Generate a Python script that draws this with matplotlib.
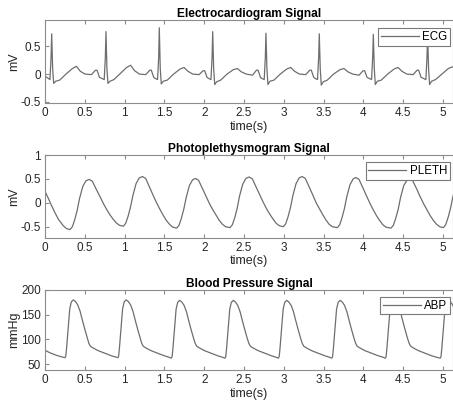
import matplotlib
matplotlib.use("Agg")
import matplotlib.pyplot as plt

# ---------------- data ----------------
ecg_t = [0.000, 0.034, 0.062, 0.076, 0.084, 0.096, 0.109, 0.134, 0.184, 0.264, 0.344, 0.394, 0.444, 0.504, 0.584, 0.634, 0.654, 0.684,
         0.716, 0.744, 0.758, 0.766, 0.778, 0.791, 0.816, 0.866, 0.946, 1.026, 1.076, 1.126, 1.186, 1.266, 1.316, 1.336, 1.366,
         1.386, 1.414, 1.428, 1.436, 1.448, 1.461, 1.486, 1.536, 1.616, 1.696, 1.746, 1.796, 1.856, 1.936, 1.986, 2.006, 2.036,
         2.057, 2.085, 2.099, 2.107, 2.119, 2.132, 2.157, 2.207, 2.287, 2.367, 2.417, 2.467, 2.527, 2.607, 2.657, 2.677, 2.707,
         2.726, 2.754, 2.768, 2.776, 2.788, 2.801, 2.826, 2.876, 2.956, 3.036, 3.086, 3.136, 3.196, 3.276, 3.326, 3.346, 3.376,
         3.396, 3.424, 3.438, 3.446, 3.458, 3.471, 3.496, 3.546, 3.626, 3.706, 3.756, 3.806, 3.866, 3.946, 3.996, 4.016, 4.046,
         4.075, 4.103, 4.117, 4.125, 4.137, 4.150, 4.175, 4.225, 4.305, 4.385, 4.435, 4.485, 4.545, 4.625, 4.675, 4.695, 4.725,
         4.757, 4.785, 4.799, 4.807, 4.819, 4.832, 4.857, 4.907, 4.987, 5.067, 5.117, 5.140]
ecg_v = [-0.04, -0.07, -0.10, 0.30, 0.73, 0.10, -0.17, -0.13, -0.11, 0.00, 0.10, 0.14, 0.05, 0.00, -0.01, 0.07, 0.07, -0.06,
         -0.08, -0.10, 0.30, 0.77, 0.10, -0.17, -0.13, -0.10, 0.01, 0.12, 0.16, 0.06, 0.00, -0.01, 0.07, 0.07, -0.06,
         -0.08, -0.10, 0.30, 0.84, 0.10, -0.18, -0.13, -0.11, 0.00, 0.09, 0.12, 0.05, 0.00, -0.01, 0.06, 0.06, -0.06,
         -0.08, -0.10, 0.30, 0.77, 0.10, -0.19, -0.14, -0.11, 0.00, 0.08, 0.10, 0.04, 0.00, -0.02, 0.07, 0.07, -0.06,
         -0.08, -0.10, 0.30, 0.74, 0.10, -0.19, -0.13, -0.11, 0.00, 0.09, 0.12, 0.05, 0.00, -0.01, 0.07, 0.07, -0.06,
         -0.08, -0.10, 0.30, 0.73, 0.10, -0.20, -0.14, -0.11, 0.00, 0.08, 0.10, 0.04, 0.00, -0.02, 0.06, 0.06, -0.06,
         -0.08, -0.10, 0.30, 0.72, 0.10, -0.19, -0.13, -0.11, 0.00, 0.09, 0.12, 0.05, 0.00, -0.01, 0.07, 0.07, -0.06,
         -0.08, -0.10, 0.30, 0.72, 0.10, -0.19, -0.13, -0.10, 0.00, 0.10, 0.13, 0.12]

pleth_t = [0.000, 0.040, 0.080, 0.126, 0.170, 0.230, 0.270,
           0.314, 0.344, 0.374, 0.404, 0.434, 0.474, 0.514, 0.555, 0.595, 0.645, 0.685, 0.735, 0.775, 0.815, 0.855, 0.895, 0.935,
           0.984, 1.014, 1.044, 1.074, 1.104, 1.144, 1.184, 1.225, 1.265, 1.315, 1.355, 1.405, 1.445, 1.485, 1.525, 1.565, 1.605,
           1.654, 1.684, 1.714, 1.744, 1.774, 1.814, 1.854, 1.890, 1.930, 1.980, 2.020, 2.070, 2.110, 2.150, 2.190, 2.230, 2.270,
           2.324, 2.354, 2.384, 2.414, 2.444, 2.484, 2.524, 2.565, 2.605, 2.655, 2.695, 2.745, 2.785, 2.825, 2.865, 2.905, 2.945,
           2.994, 3.024, 3.054, 3.084, 3.114, 3.154, 3.194, 3.230, 3.270, 3.320, 3.360, 3.410, 3.450, 3.490, 3.530, 3.570, 3.610,
           3.672, 3.702, 3.732, 3.762, 3.792, 3.832, 3.872, 3.905, 3.945, 3.995, 4.035, 4.085, 4.125, 4.165, 4.205, 4.245, 4.285,
           4.347, 4.377, 4.407, 4.437, 4.467, 4.507, 4.547, 4.580, 4.620, 4.670, 4.710, 4.760, 4.800, 4.840, 4.880, 4.920, 4.960,
           5.004, 5.034, 5.064, 5.094, 5.124, 5.164]
pleth_v = [0.24, 0.10, -0.05, -0.21, -0.35, -0.48, -0.54,
           -0.56, -0.50, -0.35, -0.16, 0.09, 0.34, 0.46, 0.49, 0.45, 0.28, 0.15, -0.02, -0.14, -0.25, -0.34, -0.42, -0.47,
           -0.49, -0.43, -0.28, -0.09, 0.15, 0.40, 0.52, 0.55, 0.51, 0.32, 0.17, -0.01, -0.14, -0.26, -0.37, -0.45, -0.51,
           -0.53, -0.47, -0.32, -0.13, 0.11, 0.36, 0.48, 0.51, 0.47, 0.29, 0.15, -0.03, -0.15, -0.26, -0.37, -0.45, -0.50,
           -0.52, -0.46, -0.31, -0.12, 0.14, 0.39, 0.51, 0.54, 0.50, 0.32, 0.18, 0.00, -0.13, -0.24, -0.34, -0.43, -0.48,
           -0.50, -0.44, -0.29, -0.10, 0.15, 0.40, 0.52, 0.55, 0.51, 0.33, 0.18, -0.01, -0.13, -0.25, -0.36, -0.45, -0.50,
           -0.52, -0.46, -0.31, -0.12, 0.13, 0.38, 0.50, 0.53, 0.49, 0.31, 0.16, -0.02, -0.15, -0.27, -0.37, -0.46, -0.51,
           -0.53, -0.47, -0.32, -0.14, 0.11, 0.36, 0.47, 0.50, 0.46, 0.29, 0.14, -0.03, -0.15, -0.27, -0.37, -0.45, -0.50,
           -0.52, -0.46, -0.31, -0.12, 0.12, 0.37]

abp_t = [0.000, 0.060, 0.140, 0.200,
         0.251, 0.261, 0.271, 0.291, 0.311, 0.331, 0.356, 0.381, 0.411, 0.441, 0.471, 0.501, 0.531, 0.551, 0.571, 0.611, 0.671, 0.751, 0.831, 0.891,
         0.915, 0.925, 0.935, 0.955, 0.975, 0.995, 1.020, 1.045, 1.075, 1.105, 1.135, 1.165, 1.195, 1.215, 1.235, 1.275, 1.335, 1.415, 1.495, 1.555,
         1.587, 1.597, 1.607, 1.627, 1.647, 1.667, 1.692, 1.717, 1.747, 1.777, 1.807, 1.837, 1.867, 1.887, 1.907, 1.947, 2.007, 2.087, 2.167, 2.227,
         2.261, 2.271, 2.281, 2.301, 2.321, 2.341, 2.366, 2.391, 2.421, 2.451, 2.481, 2.511, 2.541, 2.561, 2.581, 2.621, 2.681, 2.761, 2.841, 2.901,
         2.932, 2.942, 2.952, 2.972, 2.992, 3.012, 3.037, 3.062, 3.092, 3.122, 3.152, 3.182, 3.212, 3.232, 3.252, 3.292, 3.352, 3.432, 3.512, 3.572,
         3.603, 3.613, 3.623, 3.643, 3.663, 3.683, 3.708, 3.733, 3.763, 3.793, 3.823, 3.853, 3.883, 3.903, 3.923, 3.963, 4.023, 4.103, 4.183, 4.243,
         4.275, 4.285, 4.295, 4.315, 4.335, 4.355, 4.380, 4.405, 4.435, 4.465, 4.495, 4.525, 4.555, 4.575, 4.595, 4.635, 4.695, 4.775, 4.855, 4.915,
         4.965, 4.975, 4.985, 5.005, 5.025, 5.045, 5.070, 5.095, 5.125, 5.155]
abp_v = [78, 73, 68, 65,
         63, 66, 82, 123, 162, 176, 180, 177, 170, 157, 138, 120, 103, 92, 86, 82, 77, 72, 67, 64,
         63, 66, 82, 123, 162, 176, 180, 177, 170, 157, 138, 120, 103, 92, 86, 82, 77, 72, 67, 64,
         62, 65, 81, 122, 161, 175, 179, 176, 169, 156, 137, 119, 102, 92, 86, 82, 77, 72, 67, 64,
         62, 65, 81, 122, 161, 175, 179, 176, 169, 156, 137, 119, 102, 92, 86, 82, 77, 72, 67, 64,
         62, 65, 81, 122, 161, 175, 179, 176, 169, 156, 137, 119, 102, 92, 86, 82, 77, 72, 67, 64,
         62, 65, 81, 122, 161, 175, 179, 176, 169, 156, 137, 119, 102, 92, 86, 82, 77, 72, 67, 64,
         62, 65, 81, 122, 161, 175, 179, 176, 169, 156, 137, 119, 102, 92, 86, 82, 77, 72, 67, 64,
         62, 65, 81, 122, 161, 175, 179, 176, 169, 156]

x_ticks = [0, 0.5, 1, 1.5, 2, 2.5, 3, 3.5, 4, 4.5, 5]
x_tick_labels = ["0", "0.5", "1", "1.5", "2", "2.5", "3", "3.5", "4", "4.5", "5"]
ecg_yticks = [-0.5, 0, 0.5]
ecg_ylabels = ["-0.5", "0", "0.5"]
pleth_yticks = [-0.5, 0, 0.5, 1]
pleth_ylabels = ["-0.5", "0", "0.5", "1"]
abp_yticks = [50, 100, 150, 200]
abp_ylabels = ["50", "100", "150", "200"]

titles = ["Electrocardiogram Signal", "Photoplethysmogram Signal", "Blood Pressure Signal"]
ylabels = ["mV", "mV", "mmHg"]
legends = ["ECG", "PLETH", "ABP"]

# ---------------- figure ----------------
plt.rcParams["font.family"] = ["Liberation Sans", "DejaVu Sans"]
W, H = 453, 403
fig = plt.figure(figsize=(W / 100, H / 100), dpi=100)

left_px = 45
boxes = [(20, 103.3), (155, 237.7), (290, 370)]
ylims = [(-0.53, 0.98), (-0.73, 1.0), (38, 200)]
leg_tops = [0.905, 0.912, 0.916]
series = [(ecg_t, ecg_v, ecg_yticks, ecg_ylabels),
          (pleth_t, pleth_v, pleth_yticks, pleth_ylabels),
          (abp_t, abp_v, abp_yticks, abp_ylabels)]

line_col = "#6e6e6e"
spine_col = "#8c8c8c"
text_col = "#262626"

for i, (top, bot) in enumerate(boxes):
    ax = fig.add_axes([left_px / W, 1 - bot / H, (W - left_px) / W, (bot - top) / H])
    t, v, yt, yl = series[i]
    ax.plot(t, v, color=line_col, lw=0.9, label=legends[i])
    ax.set_xlim(0, 5.126)
    ax.set_ylim(*ylims[i])
    ax.set_xticks(x_ticks)
    ax.set_xticklabels(x_tick_labels)
    ax.set_yticks(yt)
    ax.set_yticklabels(yl)
    ax.tick_params(direction="in", length=3, width=0.8, colors=spine_col,
                   labelcolor=text_col, labelsize=8.5, top=True, right=False, pad=3)
    for s in ax.spines.values():
        s.set_color(spine_col)
        s.set_linewidth(0.8)
    ax.set_title(titles[i], fontsize=8.6, fontweight="bold", color="black", pad=2)
    ax.set_xlabel("time(s)", fontsize=9, color=text_col, labelpad=1)
    ax.set_ylabel(ylabels[i], fontsize=9, color=text_col)
    ax.yaxis.set_label_coords(-0.061, 0.5)
    leg = ax.legend(loc="upper right", bbox_to_anchor=(0.993, leg_tops[i]),
                    fontsize=8.3, frameon=True, fancybox=False, framealpha=1,
                    edgecolor="#7a7a7a", handlelength=3.3, handletextpad=0.3,
                    borderpad=0.25, borderaxespad=0)
    leg.get_frame().set_linewidth(0.8)

fig.savefig("out.png", dpi=100)
